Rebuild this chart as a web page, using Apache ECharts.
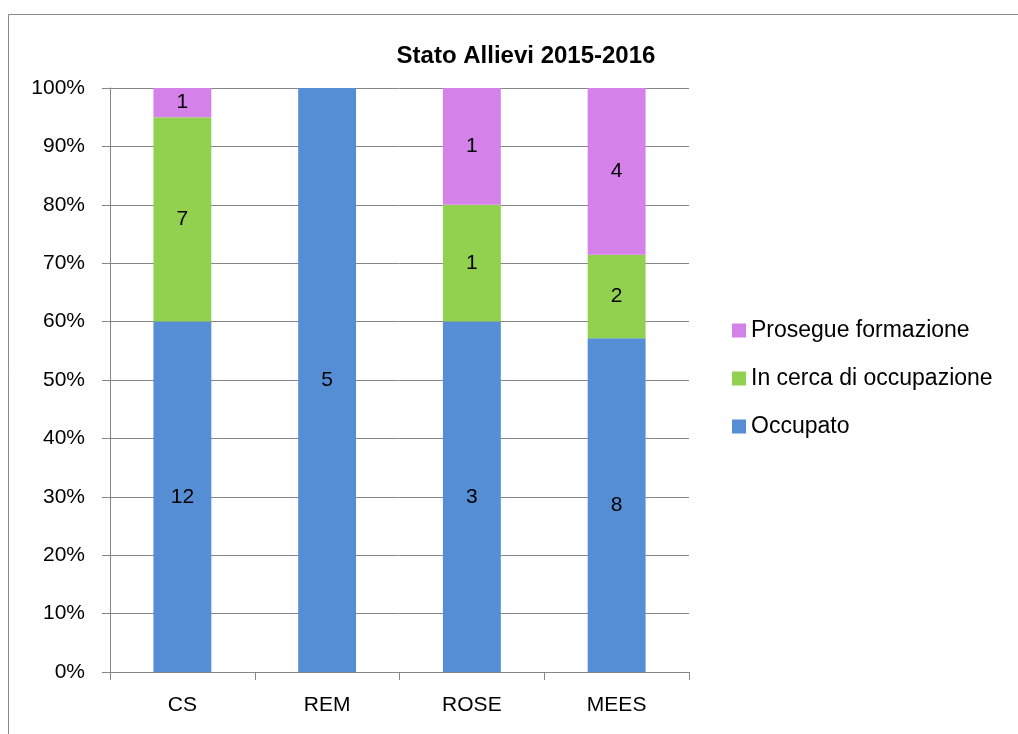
<!DOCTYPE html>
<html>
<head>
<meta charset="utf-8">
<title>Stato Allievi 2015-2016</title>
<script src="https://cdn.jsdelivr.net/npm/echarts@6/dist/echarts.min.js"></script>
<style>
html, body { margin: 0; padding: 0; background: #fff; }
#main { width: 1018px; height: 734px; }
</style>
</head>
<body>
<div id="main"></div>
<script>
// dati
const categories = ["CS", "REM", "ROSE", "MEES"];
const occupato = [12, 5, 3, 8];
const inCerca = [7, 0, 1, 2];
const prosegue = [1, 0, 1, 4];
const yTicks = [0, 10, 20, 30, 40, 50, 60, 70, 80, 90, 100];

const totals = categories.map((c, i) => occupato[i] + inCerca[i] + prosegue[i]);
const pct = arr => arr.map((v, i) => ({ value: v / totals[i] * 100, count: v }));

const font = "Liberation Sans, Arial, sans-serif";
const lbl = {
	show: true,
	position: "inside",
	color: "#000",
	fontSize: 21,
	fontFamily: font,
	formatter: p => (p.data.count ? String(p.data.count) : "")
};

const chart = echarts.init(document.getElementById("main"));
const option = {
	animation: false,
	title: {
		text: "Stato Allievi 2015-2016",
		left: 521,
		top: 39,
		textAlign: "center",
		textStyle: { fontFamily: font, fontSize: 24, fontWeight: "bold", color: "#000" }
	},
	legend: {
		orient: "vertical",
		left: 732,
		top: 319,
		padding: 0,
		itemWidth: 14,
		itemHeight: 14,
		itemGap: 25,
		icon: "rect",
		data: ["Prosegue formazione", "In cerca di occupazione", "Occupato"],
		textStyle: { fontFamily: font, fontSize: 23, color: "#000" }
	},
	grid: { left: 110, right: 329, top: 88, bottom: 62 },
	xAxis: {
		type: "category",
		data: categories,
		axisLine: { lineStyle: { color: "#868686" } },
		axisTick: { show: true, length: 8, lineStyle: { color: "#868686" } },
		axisLabel: { color: "#000", fontSize: 21, fontFamily: font, margin: 23 }
	},
	yAxis: {
		type: "value",
		min: 0,
		max: 100,
		interval: 10,
		axisLine: { show: true, lineStyle: { color: "#868686" } },
		axisTick: { show: true, length: 8, lineStyle: { color: "#868686" } },
		splitLine: { lineStyle: { color: "#868686" } },
		axisLabel: {
			color: "#000",
			fontSize: 21,
			fontFamily: font,
			margin: 25,
			formatter: v => (yTicks.includes(v) ? v + "%" : "")
		}
	},
	graphic: [
		{ type: "line", shape: { x1: 8.5, y1: 14.5, x2: 1018, y2: 14.5 }, style: { stroke: "#888", lineWidth: 1 } },
		{ type: "line", shape: { x1: 8.5, y1: 14.5, x2: 8.5, y2: 734 }, style: { stroke: "#888", lineWidth: 1 } }
	],
	series: [
		{ name: "Occupato", type: "bar", stack: "s", barWidth: "40%", itemStyle: { color: "#558ed5" }, label: lbl, data: pct(occupato) },
		{ name: "In cerca di occupazione", type: "bar", stack: "s", itemStyle: { color: "#92d050" }, label: lbl, data: pct(inCerca) },
		{ name: "Prosegue formazione", type: "bar", stack: "s", itemStyle: { color: "#d581ea" }, label: lbl, data: pct(prosegue) }
	]
};
chart.setOption(option);
</script>
</body>
</html>
